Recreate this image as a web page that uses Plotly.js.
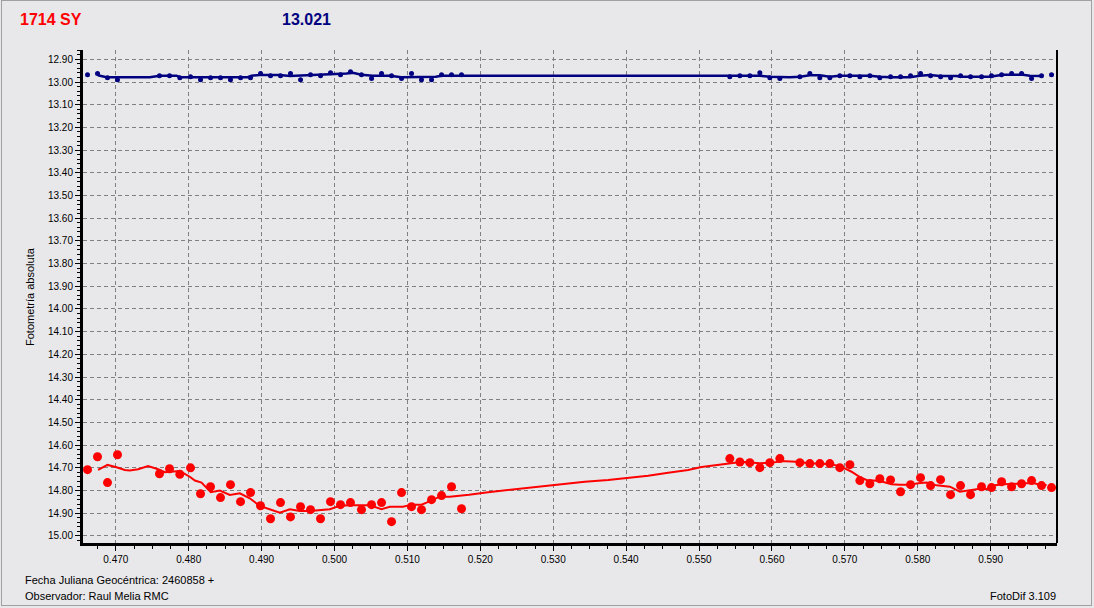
<!DOCTYPE html>
<html>
<head>
<meta charset="utf-8">
<script src="https://cdn.plot.ly/plotly-3.0.1.min.js"></script>
<style>
  html, body { margin:0; padding:0; background:#e8e8ea; }
  #wrap { position:relative; width:1094px; height:608px; overflow:hidden; }
  #chart { position:absolute; left:0; top:0; width:1094px; height:608px; }
  #frame { position:absolute; left:1px; top:0px; width:1089px; height:604px; border:1px solid #a0a0a0; pointer-events:none; }
</style>
</head>
<body>
<div id="wrap"><div id="chart"></div><div id="frame"></div></div>
<script>
// Observation times (JD fraction, 2460858 +)
const times = [
  0.46612, 0.46749, 0.46886, 0.47023,
  0.47599, 0.47737, 0.47878, 0.48025, 0.48162, 0.48299, 0.48436, 0.48573, 0.48711, 0.48848,
  0.48985, 0.49122, 0.49259, 0.49396, 0.49534, 0.49671, 0.49808, 0.49945, 0.50082, 0.50219,
  0.50370, 0.50508, 0.50645, 0.50782, 0.50919, 0.51056, 0.51193, 0.51331, 0.51468, 0.51605, 0.51742,
  0.55422, 0.55560, 0.55697, 0.55834, 0.55971, 0.56108, 0.56383, 0.56520, 0.56657, 0.56794,
  0.56931, 0.57069, 0.57206, 0.57343, 0.57480, 0.57627, 0.57764, 0.57901, 0.58038, 0.58176,
  0.58313, 0.58450, 0.58587, 0.58724, 0.58875, 0.59012, 0.59150, 0.59287, 0.59424, 0.59561,
  0.59698, 0.59835
];

// Variable star (red) magnitudes
const varMag = [
  14.708, 14.651, 14.765, 14.642,
  14.726, 14.704, 14.728, 14.700, 14.814, 14.783, 14.831, 14.774, 14.849, 14.809,
  14.867, 14.924, 14.853, 14.916, 14.871, 14.884, 14.924, 14.849, 14.862, 14.853,
  14.884, 14.862, 14.853, 14.937, 14.809, 14.871, 14.884, 14.840, 14.822, 14.783, 14.880,
  14.659, 14.674, 14.677, 14.699, 14.677, 14.659, 14.677, 14.681, 14.681, 14.681,
  14.699, 14.686, 14.756, 14.770, 14.748, 14.753, 14.805, 14.774, 14.743, 14.778,
  14.752, 14.818, 14.778, 14.818, 14.783, 14.787, 14.761, 14.783, 14.770, 14.756,
  14.778, 14.787
];

// Comparison star (blue) magnitudes
const compMag = [
  12.968, 12.963, 12.981, 12.990,
  12.972, 12.972, 12.981, 12.977, 12.990, 12.981, 12.981, 12.990, 12.981, 12.981,
  12.963, 12.972, 12.972, 12.963, 12.990, 12.968, 12.972, 12.959, 12.968, 12.955,
  12.968, 12.985, 12.963, 12.972, 12.985, 12.963, 12.990, 12.990, 12.968, 12.968, 12.968,
  12.977, 12.972, 12.972, 12.959, 12.981, 12.985, 12.977, 12.963, 12.981, 12.981,
  12.972, 12.972, 12.977, 12.972, 12.981, 12.977, 12.977, 12.972, 12.963, 12.972,
  12.977, 12.981, 12.972, 12.977, 12.977, 12.972, 12.968, 12.963, 12.963, 12.985,
  12.972, 12.968
];

// Smoothed curve of the variable
const varCurveX = [
  0.46757, 0.46886, 0.47010, 0.47123, 0.47192, 0.47306, 0.47443, 0.47580, 0.47672, 0.47878,
  0.48015, 0.48084, 0.48176, 0.48303, 0.48427, 0.48564, 0.48701, 0.48838, 0.48975, 0.49112,
  0.49250, 0.49387, 0.49524, 0.49661, 0.49798, 0.49936, 0.50073, 0.50210, 0.50484, 0.50576,
  0.50645, 0.50759, 0.50941, 0.51056, 0.51193, 0.51262, 0.51353, 0.51444, 0.51582, 0.51719,
  0.51846, 0.52107, 0.52473, 0.52977, 0.53433, 0.53753, 0.54074, 0.54302, 0.54576, 0.54851,
  0.55034, 0.55309, 0.55491, 0.55628, 0.55834, 0.56063, 0.56108, 0.56337, 0.56520, 0.56749,
  0.56886, 0.56977, 0.57092, 0.57206, 0.57298, 0.57480, 0.57572, 0.57641, 0.57755, 0.57892,
  0.58006, 0.58121, 0.58258, 0.58441, 0.58578, 0.58670, 0.58852, 0.58944, 0.59034, 0.59172,
  0.59446, 0.59583, 0.59675, 0.59767
];
const varCurveY = [
  14.709, 14.687, 14.697, 14.709, 14.712, 14.706, 14.692, 14.706, 14.719, 14.714,
  14.739, 14.756, 14.765, 14.807, 14.800, 14.819, 14.812, 14.834, 14.868, 14.882,
  14.897, 14.882, 14.890, 14.890, 14.885, 14.882, 14.867, 14.865, 14.865, 14.875,
  14.882, 14.871, 14.871, 14.862, 14.862, 14.853, 14.841, 14.827, 14.827, 14.824,
  14.818, 14.807, 14.794, 14.774, 14.761, 14.753, 14.744, 14.735, 14.721, 14.709,
  14.696, 14.684, 14.677, 14.674, 14.680, 14.674, 14.670, 14.673, 14.680, 14.683,
  14.689, 14.699, 14.717, 14.741, 14.753, 14.758, 14.765, 14.772, 14.774, 14.774,
  14.768, 14.765, 14.777, 14.783, 14.805, 14.800, 14.792, 14.794, 14.778, 14.772,
  14.770, 14.767, 14.774, 14.775
];

// Smoothed curve of the comparison
const compCurveX = [
  0.46753, 0.46872, 0.47466, 0.47604, 0.47833, 0.47878, 0.48811, 0.48861, 0.48975, 0.49250,
  0.49387, 0.49524, 0.49702, 0.49798, 0.49977, 0.50165, 0.50251, 0.50370, 0.50525, 0.50759,
  0.50919, 0.51307, 0.51390, 0.51468, 0.55834, 0.55971, 0.56108, 0.56245, 0.56383, 0.56520,
  0.56657, 0.56794, 0.56931, 0.57343, 0.57480, 0.57617, 0.57892, 0.58029, 0.58166, 0.58303,
  0.58536, 0.58578, 0.58989, 0.59126, 0.59167, 0.59442, 0.59538, 0.59689
];
const compCurveY = [
  12.970, 12.979, 12.979, 12.972, 12.972, 12.979, 12.979, 12.972, 12.969, 12.969,
  12.974, 12.972, 12.972, 12.968, 12.968, 12.963, 12.959, 12.968, 12.972, 12.972,
  12.979, 12.979, 12.977, 12.972, 12.972, 12.977, 12.979, 12.979, 12.977, 12.970,
  12.970, 12.977, 12.972, 12.972, 12.977, 12.979, 12.979, 12.972, 12.969, 12.974,
  12.974, 12.977, 12.977, 12.972, 12.968, 12.968, 12.972, 12.974
];

const starName = "1714 SY";
const compValue = "13.021";
const yTitle = "Fotometría absoluta";
const footLeft1 = "Fecha Juliana Geocéntrica: 2460858 +";
const footLeft2 = "Observador: Raul Melia RMC";
const footRight = "FotoDif 3.109";

const RED = "#ff0000", NAVY = "#000080";
const FONT = "Liberation Sans, Arial, sans-serif";

const traces = [
  { x: compCurveX, y: compCurveY, mode: "lines", line: {color: NAVY, width: 2.5}, hoverinfo: "skip", showlegend: false },
  { x: times, y: compMag, mode: "markers", marker: {color: NAVY, size: 5}, showlegend: false },
  { x: varCurveX, y: varCurveY, mode: "lines", line: {color: RED, width: 2}, hoverinfo: "skip", showlegend: false },
  { x: times, y: varMag, mode: "markers", marker: {color: RED, size: 9}, showlegend: false }
];

const L = 83, R = 1057, T = 50, B = 543, W = 1094, H = 608;
const px = v => (v - L) / (R - L);
const py = v => (B - v) / (B - T);

const layout = {
  width: W, height: H,
  margin: {l: L, r: W - R, t: T, b: H - B, pad: 0},
  paper_bgcolor: "#e8e8ea",
  plot_bgcolor: "#e8e8ea",
  font: {family: FONT, size: 10, color: "#000"},
  showlegend: false,
  xaxis: {
    range: [0.4655, 0.5991],
    dtick: 0.01, tick0: 0,
    tickformat: ".3f",
    showgrid: true, gridcolor: "#808080", gridwidth: 1, griddash: "4px,3px",
    zeroline: false,
    showline: true, linecolor: "#000", linewidth: 3,
    ticks: "outside", ticklen: 5, tickwidth: 1, tickcolor: "#000",
    minor: {dtick: 0.0025, ticks: "outside", ticklen: 3, tickcolor: "#000", showgrid: false},
    tickfont: {family: FONT, size: 10, color: "#000"}
  },
  yaxis: {
    range: [15.031, 12.859],
    dtick: 0.1, tick0: 0,
    tickformat: ".2f",
    showgrid: true, gridcolor: "#808080", gridwidth: 1, griddash: "4px,3px",
    zeroline: false,
    showline: true, linecolor: "#000", linewidth: 3,
    ticks: "outside", ticklen: 5, tickwidth: 1, tickcolor: "#000",
    minor: {dtick: 0.02, ticks: "outside", ticklen: 3, tickcolor: "#000", showgrid: false},
    tickfont: {family: FONT, size: 10, color: "#000"}
  },
  shapes: [
    {type: "line", xref: "paper", yref: "paper", x0: 1, x1: 1, y0: 0, y1: 1, line: {color: "#000", width: 2}}
  ],
  annotations: [
    {text: "<b>" + starName + "</b>", xref: "paper", yref: "paper", x: px(18), y: py(20), xanchor: "left", yanchor: "middle", showarrow: false, font: {family: FONT, size: 16, color: RED}},
    {text: "<b>" + compValue + "</b>", xref: "paper", yref: "paper", x: px(280), y: py(20), xanchor: "left", yanchor: "middle", showarrow: false, font: {family: FONT, size: 16, color: NAVY}},
    {text: yTitle, xref: "paper", yref: "paper", x: px(30), y: py(297), xanchor: "center", yanchor: "middle", textangle: -90, showarrow: false, font: {family: FONT, size: 11, color: "#000"}},
    {text: footLeft1, xref: "paper", yref: "paper", x: px(23), y: py(580), xanchor: "left", yanchor: "middle", showarrow: false, font: {family: FONT, size: 11, color: "#000"}},
    {text: footLeft2, xref: "paper", yref: "paper", x: px(23), y: py(596), xanchor: "left", yanchor: "middle", showarrow: false, font: {family: FONT, size: 11, color: "#000"}},
    {text: footRight, xref: "paper", yref: "paper", x: px(1058), y: py(596), xanchor: "right", yanchor: "middle", showarrow: false, font: {family: FONT, size: 11, color: "#000"}}
  ]
};

Plotly.newPlot("chart", traces, layout, {displayModeBar: false, staticPlot: true});
</script>
</body>
</html>
